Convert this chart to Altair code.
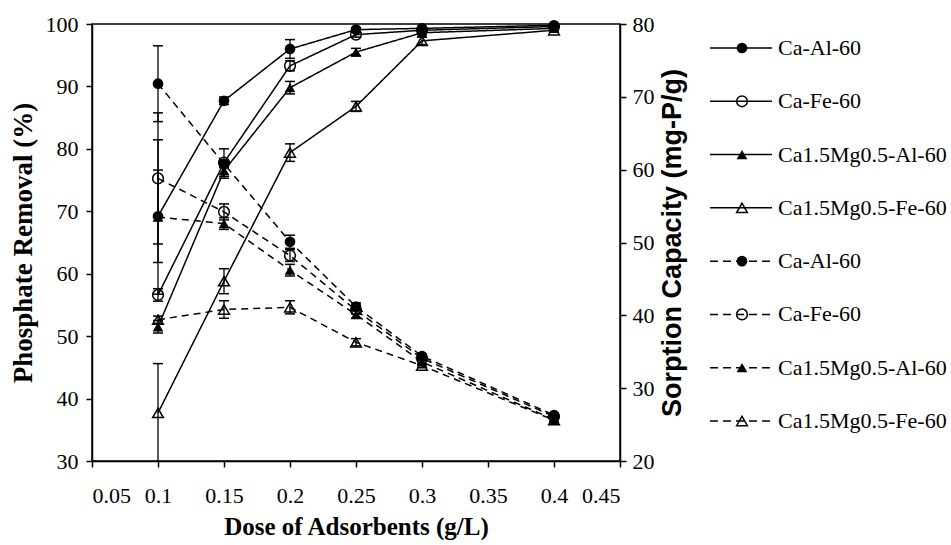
import altair as alt
import pandas as pd

# Adsorbent dose (g/L)
dose = [0.1, 0.15, 0.2, 0.25, 0.3, 0.4]
series = ["Ca-Al-60", "Ca-Fe-60", "Ca1.5Mg0.5-Al-60", "Ca1.5Mg0.5-Fe-60"]
marker_shape = ["circle", "circle", "triangle-up", "triangle-up"]
marker_filled = [True, False, True, False]

# Phosphate removal (%), left axis, solid lines
removal_ca_al = [69.2, 87.7, 96.0, 99.1, 99.3, 99.8]
removal_ca_fe = [56.6, 77.8, 93.3, 98.3, 99.0, 99.6]
removal_camg_al = [51.5, 76.5, 89.8, 95.5, 98.6, 99.3]
removal_camg_fe = [37.7, 58.8, 79.4, 86.8, 97.3, 99.0]
removal_err_ca_al = [7.4, 0.6, 1.5, 0.3, 0.3, 0.3]
removal_err_ca_fe = [1.0, 2.2, 0.8, 0.4, 0.3, 0.3]
removal_err_camg_al = [1.0, 1.2, 1.0, 0.6, 0.3, 0.3]
removal_err_camg_fe = [7.9, 2.0, 1.4, 0.8, 0.6, 0.3]

# Sorption capacity (mg-P/g), right axis, dashed lines
capacity_ca_al = [71.8, 60.8, 50.1, 41.2, 34.4, 26.3]
capacity_ca_fe = [58.8, 54.2, 48.2, 40.7, 34.1, 26.1]
capacity_camg_al = [53.5, 52.6, 46.2, 40.1, 33.6, 25.7]
capacity_camg_fe = [39.4, 40.8, 41.1, 36.3, 33.1, 25.6]
capacity_err_ca_al = [5.2, 0.5, 0.9, 0.5, 0.3, 0.3]
capacity_err_ca_fe = [9.0, 1.1, 0.8, 0.5, 0.3, 0.3]
capacity_err_camg_al = [10.6, 0.8, 0.8, 0.5, 0.3, 0.3]
capacity_err_camg_fe = [0.5, 1.2, 0.9, 0.5, 0.3, 0.3]

x_ticks = [0.05, 0.1, 0.15, 0.2, 0.25, 0.3, 0.35, 0.4, 0.45]
left_ticks = [30, 40, 50, 60, 70, 80, 90, 100]
right_ticks = [20, 30, 40, 50, 60, 70, 80]

SERIF = "Liberation Serif"
SANS = "Liberation Sans"
MARK_SIZE = 115

rows = []
groups = [
    ("removal", [removal_ca_al, removal_ca_fe, removal_camg_al, removal_camg_fe],
     [removal_err_ca_al, removal_err_ca_fe, removal_err_camg_al, removal_err_camg_fe]),
    ("capacity", [capacity_ca_al, capacity_ca_fe, capacity_camg_al, capacity_camg_fe],
     [capacity_err_ca_al, capacity_err_ca_fe, capacity_err_camg_al, capacity_err_camg_fe]),
]
for kind, vals, errs in groups:
    for s, filled, v, e in zip(series, marker_filled, vals, errs):
        for d, y, err in zip(dose, v, e):
            rows.append(dict(kind=kind, series=s, filled=filled, dose=d,
                             value=y, lo=y - err, hi=y + err))
df = pd.DataFrame(rows)

x_enc = alt.X("dose:Q",
              scale=alt.Scale(domain=[0.05, 0.45], nice=False, zero=False),
              axis=alt.Axis(values=x_ticks, format="~g",
                            title="Dose of Adsorbents (g/L)",
                            labelPadding=18, titlePadding=8))
shape_enc = alt.Shape("series:N",
                      scale=alt.Scale(domain=series, range=marker_shape),
                      legend=None)


def panel(kind, scale, axis, dash):
    base = alt.Chart(df).transform_filter(alt.datum.kind == kind)
    lines = base.mark_line(color="black", strokeWidth=1.5, strokeDash=dash).encode(
        x=x_enc, y=alt.Y("value:Q", scale=scale, axis=axis), detail="series:N")
    bars = base.mark_rule(color="black", strokeWidth=1.3, clip=True).encode(
        x=x_enc, y=alt.Y("lo:Q", scale=scale, axis=axis), y2="hi:Q")
    cap_lo = base.mark_point(shape="M-1,0H1", size=100, color="black",
                             strokeWidth=1.5, clip=True, opacity=1).encode(
        x=x_enc, y=alt.Y("lo:Q", scale=scale, axis=axis))
    cap_hi = base.mark_point(shape="M-1,0H1", size=100, color="black",
                             strokeWidth=1.5, clip=True, opacity=1).encode(
        x=x_enc, y=alt.Y("hi:Q", scale=scale, axis=axis))
    pts_full = base.transform_filter("datum.filled").mark_point(
        filled=True, size=MARK_SIZE, color="black", opacity=1).encode(
        x=x_enc, y=alt.Y("value:Q", scale=scale, axis=axis), shape=shape_enc)
    pts_open = base.transform_filter("!datum.filled").mark_point(
        filled=False, size=MARK_SIZE, color="black", strokeWidth=1.5, opacity=1).encode(
        x=x_enc, y=alt.Y("value:Q", scale=scale, axis=axis), shape=shape_enc)
    return alt.layer(lines, bars, cap_lo, cap_hi, pts_full, pts_open)


left = panel(
    "removal",
    alt.Scale(domain=[30, 100], nice=False, zero=False),
    alt.Axis(values=left_ticks, title="Phosphate Removal (%)",
             titleFont=SERIF, titleFontSize=27, titleFontWeight="bold",
             labelPadding=8, titlePadding=8),
    [1, 0],
)
right = panel(
    "capacity",
    alt.Scale(domain=[20, 80], nice=False, zero=False),
    alt.Axis(values=right_ticks, orient="right",
             title="Sorption Capacity (mg-P/g)",
             titleFont=SANS, titleFontSize=27, titleFontWeight="bold",
             titleAngle=270, labelPadding=6, titlePadding=32),
    [7, 5],
)

main = alt.layer(left, right).resolve_scale(y="independent").properties(
    width=528, height=437)

# Key: line sample, marker and label for each of the eight series
key_rows = []
for style in ["solid", "dashed"]:
    for s, shp, filled in zip(series, marker_shape, marker_filled):
        key_rows.append(dict(key=f"{style}-{s}", label=s, style=style,
                             series=s, filled=filled))
key_df = pd.DataFrame(key_rows)
key_order = list(key_df["key"])
key_y = alt.Y("key:N",
              scale=alt.Scale(type="point", domain=key_order, range=[24, 397],
                              padding=0),
              axis=None)
kbase = alt.Chart(key_df)
key_line = kbase.mark_rule(color="black", strokeWidth=1.5).encode(
    x=alt.value(0), x2=alt.value(62), y=key_y,
    strokeDash=alt.StrokeDash("style:N",
                              scale=alt.Scale(domain=["solid", "dashed"],
                                              range=[[1, 0], [8, 5]]),
                              legend=None))
key_full = kbase.transform_filter("datum.filled").mark_point(
    filled=True, size=MARK_SIZE, color="black", opacity=1).encode(
    x=alt.value(32), y=key_y, shape=shape_enc)
key_open = kbase.transform_filter("!datum.filled").mark_point(
    filled=False, size=MARK_SIZE, color="black", strokeWidth=1.5, opacity=1).encode(
    x=alt.value(32), y=key_y, shape=shape_enc)
key_text = kbase.mark_text(align="left", baseline="middle", font=SERIF,
                           fontSize=22, color="black").encode(
    x=alt.value(68), y=key_y, text="label:N")
key = alt.layer(key_line, key_full, key_open, key_text).properties(
    width=225, height=437, view=alt.ViewBackground(stroke="transparent"))

chart = alt.hconcat(main, key, spacing=22).properties(
    padding={"left": 8, "top": 12, "right": 0, "bottom": 0},
    background="white",
).configure_view(stroke="black", strokeWidth=1.5).configure_axis(
    grid=False, domainColor="black", domainWidth=1.5, tickColor="black",
    tickWidth=1.5, tickSize=6, labelFont=SERIF, labelFontSize=22,
    labelColor="black", titleColor="black", titleFont=SERIF,
    titleFontSize=25, titleFontWeight="bold",
)

chart.save("out.html", embed_options={"renderer": "svg", "actions": False})
